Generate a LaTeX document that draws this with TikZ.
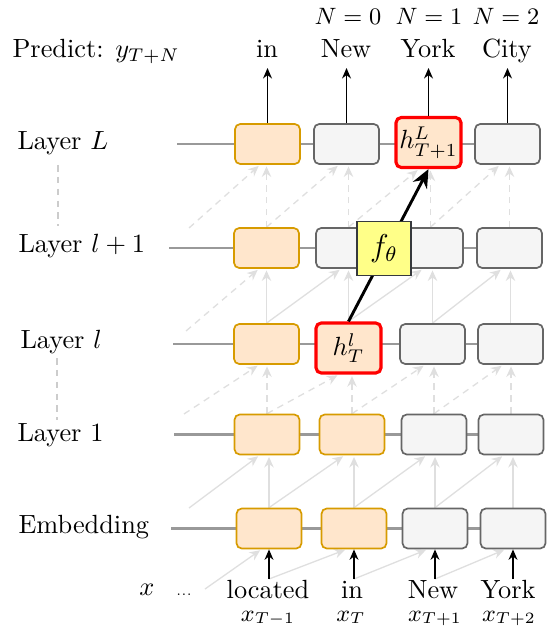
\documentclass[tikz,border=0pt]{standalone}
\usetikzlibrary{arrows.meta,backgrounds}
\definecolor{orangeF}{HTML}{FFE6CC}
\definecolor{orangeB}{HTML}{D79B00}
\definecolor{grayF}{HTML}{F5F5F5}
\definecolor{grayB}{HTML}{666666}
\definecolor{yellowF}{HTML}{FFFF88}
\definecolor{yellowB}{HTML}{36393D}
\definecolor{lightg}{HTML}{DFDFDF}
\definecolor{rowgray}{HTML}{999999}
\definecolor{sideg}{HTML}{CCCCCC}
\begin{document}
\begin{tikzpicture}[x=0.38pt,y=-0.38pt,
  box/.style={draw, rounded corners=2pt, minimum width=24.7pt, minimum height=15.2pt, inner sep=0pt, line width=0.65pt},
  obox/.style={box, draw=orangeB, fill=orangeF},
  gbox/.style={box, draw=grayB, fill=grayF},
  rbox/.style={box, draw=red, fill=orangeF, line width=1.2pt, minimum height=19pt},
  fbox/.style={draw=yellowB, fill=yellowF, line width=0.7pt, minimum width=20.5pt, minimum height=20.5pt, inner sep=0pt},
  rowline/.style={draw=rowgray, line width=1.1pt},
  flow/.style={draw=lightg, line width=0.5pt, -{Stealth[length=4pt,width=3.6pt]}, shorten >=0.6pt},
  flowd/.style={flow, dash pattern=on 2.5pt off 2pt},
  outarrow/.style={-{Stealth[length=4pt,width=3.4pt]}, line width=0.5pt},
  bigarrow/.style={-{Stealth[length=7pt,width=6pt]}, line width=1.1pt},
  sideline/.style={draw=sideg, line width=0.45pt, dash pattern=on 2.5pt off 2pt},
  lab/.style={anchor=base west, inner sep=0pt},
  word/.style={anchor=base, inner sep=0pt}
]
\useasboundingbox (0,0) rectangle (548,628);

% row labels
\node[lab] (pred) at (12,58) {Predict: $y_{T+N}$};
\node[lab] (lL) at (17,150) {Layer $L$};
\node[lab] (llp) at (18,253) {Layer $l+1$};
\node[lab] (ll) at (20,348) {Layer $l$};
\node[lab] (l1) at (17,441) {Layer 1};
\node[lab] (lemb) at (18,533) {Embedding};

% boxes Layer L
\node[obox] (d1) at (267.5,144) {};
\node[gbox] (d2) at (346.5,144) {};
\node[rbox] (d3) at (428.5,142.5) {$h^{L}_{T+1}$};
\node[gbox] (d4) at (507.5,144) {};
% Layer l+1
\node[obox] (c1) at (266.5,248) {};
\node[gbox] (c2) at (348.5,248) {};
\node[gbox] (c3) at (430.5,248) {};
\node[gbox] (c4) at (509.5,248) {};
% Layer l
\node[obox] (b1) at (266.5,344) {};
\node[rbox] (b2) at (348.5,348) {$h^{l}_{T}$};
\node[gbox] (b3) at (432.5,344) {};
\node[gbox] (b4) at (510.5,344) {};
% Layer 1
\node[obox] (a1) at (267,434.5) {};
\node[obox] (a2) at (352,434.5) {};
\node[gbox] (a3) at (434,434.5) {};
\node[gbox] (a4) at (511,434.5) {};
% Embedding
\node[obox] (e1) at (269,528.5) {};
\node[obox] (e2) at (354,528.5) {};
\node[gbox] (e3) at (435,528.5) {};
\node[gbox] (e4) at (513,528.5) {};

% row line starts
\coordinate (sL) at (177,144);
\coordinate (slp) at (169,248);
\coordinate (sl) at (173,344);
\coordinate (s1) at (174,434.5);
\coordinate (se) at (171,528.5);
% left free starts of diagonals
\coordinate (fe) at (205,589);
\coordinate (f1) at (189,508);
\coordinate (fl) at (184,414);
\coordinate (flp) at (186,331);
\coordinate (fL) at (189,228);
% side dashed lines
\coordinate (v1a) at (58,165);
\coordinate (v1b) at (58,226);
\coordinate (v2a) at (57,358);
\coordinate (v2b) at (57,420);

% top words
\node[word] (o1) at (267,58) {in};
\node[word] (o2) at (346,58) {New};
\node[word] (o3) at (428,58) {York};
\node[word] (o4) at (507,58) {City};
\node[word,font=\small] (n2) at (348,25) {$N=0$};
\node[word,font=\small] (n3) at (429,25) {$N=1$};
\node[word,font=\small] (n4) at (506,25) {$N=2$};
\coordinate (t1) at (267.5,68);
\coordinate (t2) at (346.5,68);
\coordinate (t3) at (428.5,68);
\coordinate (t4) at (507.5,68);

% bottom words
\node[word] (xin) at (147,595) {$x$};
\node[word,font=\tiny] (dots) at (184,595) {...};
\node[word] (w1) at (268,598) {located};
\node[word] (w2) at (352,598) {in};
\node[word] (w3) at (433,598) {New};
\node[word] (w4) at (508,598) {York};
\node[word,font=\small] (x1) at (268,621) {$x_{T-1}$};
\node[word,font=\small] (x2) at (351,621) {$x_{T}$};
\node[word,font=\small] (x3) at (435,621) {$x_{T+1}$};
\node[word,font=\small] (x4) at (509,621) {$x_{T+2}$};
\coordinate (i1) at (269,579);
\coordinate (i2) at (354,579);
\coordinate (i3) at (435,579);
\coordinate (i4) at (513,579);

\begin{scope}[on background layer]
  % row lines
  \draw[rowline] (sL) -- (d4.center);
  \draw[rowline] (slp) -- (c4.center);
  \draw[rowline] (sl) -- (b4.center);
  \draw[rowline] (s1) -- (a4.center);
  \draw[rowline] (se) -- (e4.center);
  % side dashed lines
  \draw[sideline] (v1a) -- (v1b);
  \draw[sideline] (v2a) -- (v2b);
  % input -> embedding
  \draw[flow] (fe) -- (e1.-110);
  \draw[flow] (i1) -- (e2.-110);
  \draw[flow] (i2) -- (e3.-110);
  \draw[flow] (i3) -- (e4.-110);
  % embedding -> layer 1 (solid)
  \draw[flow] (f1) -- (a1.-110);
  \foreach \i/\j in {1/2,2/3,3/4} { \draw[flow] (e\i.north) -- (a\j.-110); }
  \foreach \i in {1,2,3,4} { \draw[flow] (e\i.north) -- (e\i.north |- a\i.south); }
  % layer 1 -> layer l (dashed)
  \draw[flowd] (fl) -- (b1.-110);
  \foreach \i/\j in {1/2,2/3,3/4} { \draw[flowd] (a\i.north) -- (b\j.-110); }
  \foreach \i in {1,2,3,4} { \draw[flowd] (a\i.north) -- (a\i.north |- b\i.south); }
  % layer l -> layer l+1 (solid, left one dashed)
  \draw[flowd] (flp) -- (c1.-110);
  \foreach \i/\j in {1/2,2/3,3/4} { \draw[flow] (b\i.north) -- (c\j.-110); }
  \foreach \i in {1,2,3,4} { \draw[flow] (b\i.north) -- (b\i.north |- c\i.south); }
  % layer l+1 -> layer L (dashed)
  \draw[flowd] (fL) -- (d1.-110);
  \foreach \i/\j in {1/2,2/3,3/4} { \draw[flowd] (c\i.north) -- (d\j.-110); }
  \foreach \i in {1,2,3,4} { \draw[flowd] (c\i.north) -- (c\i.north |- d\i.south); }
\end{scope}

% input arrows
\foreach \i in {1,2,3,4} { \draw[outarrow] (i\i) -- (e\i.south); }
% output arrows
\foreach \i in {1,2,3,4} { \draw[outarrow] (d\i.north) -- (t\i); }

% bold arrow and f_theta
\draw[bigarrow] (b2.north) -- (d3.south);
\node[fbox] (f) at (384,248.5) {\large $f_\theta$};
\end{tikzpicture}
\end{document}
